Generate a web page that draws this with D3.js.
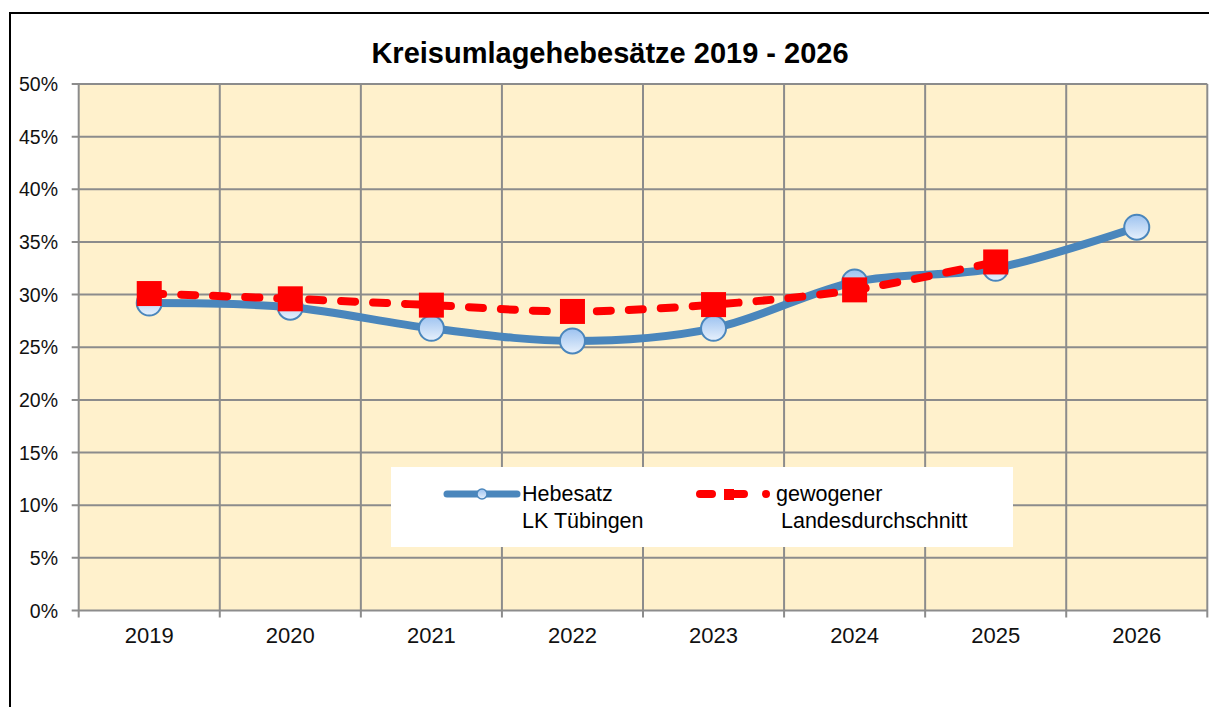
<!DOCTYPE html>
<html>
<head>
<meta charset="utf-8">
<script src="https://cdn.jsdelivr.net/npm/d3@7"></script>
<style>
  body { margin: 0; background: #fff; }
  svg { display: block; font-family: "Liberation Sans", Arial, sans-serif; }
</style>
</head>
<body>
<div class="chart"></div>
<script>
// Years on the x axis
var years = ['2019', '2020', '2021', '2022', '2023', '2024', '2025', '2026'];
// Hebesatz LK Tübingen (%)
var hebesatz = [29.2, 28.8, 26.8, 25.6, 26.8, 31.2, 32.5, 36.4];
// gewogener Landesdurchschnitt (%), no value for 2026
var landesschnitt = [30.1, 29.6, 29.0, 28.4, 29.05, 30.45, 33.1, null];
// y ticks
var yTicks = [0, 5, 10, 15, 20, 25, 30, 35, 40, 45, 50];

var width = 1209;
var height = 707;
var plot = {left: 78.7, right: 1207.3, top: 84, bottom: 610.5};

var svg = d3.select(".chart")
    .append("svg")
    .attr("width", width)
    .attr("height", height);

// gradient for the round markers
var defs = svg.append("defs");
var grad = defs.append("linearGradient")
    .attr("id", "circleGrad")
    .attr("x1", 0).attr("y1", 0).attr("x2", 0).attr("y2", 1);
grad.append("stop").attr("offset", "0%").attr("stop-color", "#9cc2f0");
grad.append("stop").attr("offset", "100%").attr("stop-color", "#e8f1fc");

// outer frame (only left and top visible)
svg.append("path")
    .attr("d", "M10,708 L10,13 L1210,13")
    .attr("fill", "none")
    .attr("stroke", "#000")
    .attr("stroke-width", 2);

// Title
svg.append("text")
    .attr("x", 610)
    .attr("y", 63)
    .attr("text-anchor", "middle")
    .attr("font-size", 29)
    .attr("font-weight", "bold")
    .text("Kreisumlagehebesätze 2019 - 2026");

var xScale = d3.scaleBand()
    .domain(years)
    .range([plot.left, plot.right]);

var yScale = d3.scaleLinear()
    .domain([0, 50])
    .range([plot.bottom, plot.top]);

// plot background
svg.append("rect")
    .attr("x", plot.left)
    .attr("y", plot.top)
    .attr("width", plot.right - plot.left)
    .attr("height", plot.bottom - plot.top)
    .attr("fill", "#fff1cc");

// horizontal gridlines
svg.append("g")
    .selectAll("line")
    .data(yTicks)
    .enter()
    .append("line")
    .attr("x1", plot.left - 7)
    .attr("x2", plot.right)
    .attr("y1", function(d){ return yScale(d); })
    .attr("y2", function(d){ return yScale(d); })
    .attr("stroke", "#8c8c8c")
    .attr("stroke-width", 2);

// vertical gridlines at band edges
var edges = years.map(function(d){ return xScale(d); }).concat([plot.right]);
svg.append("g")
    .selectAll("line")
    .data(edges)
    .enter()
    .append("line")
    .attr("x1", function(d){ return d; })
    .attr("x2", function(d){ return d; })
    .attr("y1", plot.top)
    .attr("y2", plot.bottom + 7)
    .attr("stroke", "#8c8c8c")
    .attr("stroke-width", 2);

// y axis labels
svg.append("g")
    .selectAll("text")
    .data(yTicks)
    .enter()
    .append("text")
    .attr("x", 58)
    .attr("y", function(d){ return yScale(d) + 7; })
    .attr("text-anchor", "end")
    .attr("font-size", 19.5)
    .attr("fill", "#111")
    .text(function(d){ return d + "%"; });

// x axis labels
svg.append("g")
    .selectAll("text")
    .data(years)
    .enter()
    .append("text")
    .attr("x", function(d){ return xScale(d) + xScale.bandwidth() / 2; })
    .attr("y", 643)
    .attr("text-anchor", "middle")
    .attr("font-size", 22)
    .attr("fill", "#111")
    .text(function(d){ return d; });

var cx = function(d, i){ return xScale(years[i]) + xScale.bandwidth() / 2; };

// Hebesatz line
var blueLine = d3.line()
    .x(cx)
    .y(function(d){ return yScale(d); })
    .curve(d3.curveCardinal.tension(0));

svg.append("path")
    .datum(hebesatz)
    .attr("d", blueLine)
    .attr("fill", "none")
    .attr("stroke", "#4a86bc")
    .attr("stroke-width", 8)
    .attr("stroke-linecap", "round");

svg.append("g")
    .selectAll("circle")
    .data(hebesatz)
    .enter()
    .append("circle")
    .attr("cx", cx)
    .attr("cy", function(d){ return yScale(d); })
    .attr("r", 12.5)
    .attr("fill", "url(#circleGrad)")
    .attr("stroke", "#4a86bc")
    .attr("stroke-width", 2);

// Landesdurchschnitt line
var redLine = d3.line()
    .defined(function(d){ return d != null; })
    .x(cx)
    .y(function(d){ return yScale(d); })
    .curve(d3.curveCardinal.tension(0));

svg.append("path")
    .datum(landesschnitt)
    .attr("d", redLine)
    .attr("fill", "none")
    .attr("stroke", "#ff0000")
    .attr("stroke-width", 8)
    .attr("stroke-dasharray", "14,18")
    .attr("stroke-linecap", "round");

var sq = 25;
svg.append("g")
    .selectAll("rect")
    .data(landesschnitt)
    .enter()
    .filter(function(d){ return d != null; })
    .append("rect")
    .attr("x", function(d){ return cx(d, landesschnitt.indexOf(d)) - sq / 2; })
    .attr("y", function(d){ return yScale(d) - sq / 2; })
    .attr("width", sq)
    .attr("height", sq)
    .attr("fill", "#ff0000");

// Legend
var legend = svg.append("g");
legend.append("rect")
    .attr("x", 391)
    .attr("y", 467)
    .attr("width", 622)
    .attr("height", 80)
    .attr("fill", "#fff");

legend.append("line")
    .attr("x1", 447).attr("x2", 517)
    .attr("y1", 494).attr("y2", 494)
    .attr("stroke", "#4a86bc")
    .attr("stroke-width", 7)
    .attr("stroke-linecap", "round");
legend.append("circle")
    .attr("cx", 482).attr("cy", 494).attr("r", 5)
    .attr("fill", "url(#circleGrad)")
    .attr("stroke", "#4a86bc")
    .attr("stroke-width", 1.5);
legend.append("text")
    .attr("x", 522).attr("y", 501)
    .attr("font-size", 21.5)
    .text("Hebesatz");
legend.append("text")
    .attr("x", 522).attr("y", 528)
    .attr("font-size", 21.5)
    .text("LK Tübingen");

legend.append("line")
    .attr("x1", 700).attr("x2", 744)
    .attr("y1", 494).attr("y2", 494)
    .attr("stroke", "#ff0000")
    .attr("stroke-width", 8)
    .attr("stroke-dasharray", "12,20")
    .attr("stroke-linecap", "round");
legend.append("rect")
    .attr("x", 724).attr("y", 489).attr("width", 10).attr("height", 11)
    .attr("fill", "#ff0000");
legend.append("circle")
    .attr("cx", 766).attr("cy", 494).attr("r", 4)
    .attr("fill", "#ff0000");
legend.append("text")
    .attr("x", 776).attr("y", 501)
    .attr("font-size", 21.5)
    .text("gewogener");
legend.append("text")
    .attr("x", 781).attr("y", 528)
    .attr("font-size", 21.5)
    .text("Landesdurchschnitt");
</script>
</body>
</html>
